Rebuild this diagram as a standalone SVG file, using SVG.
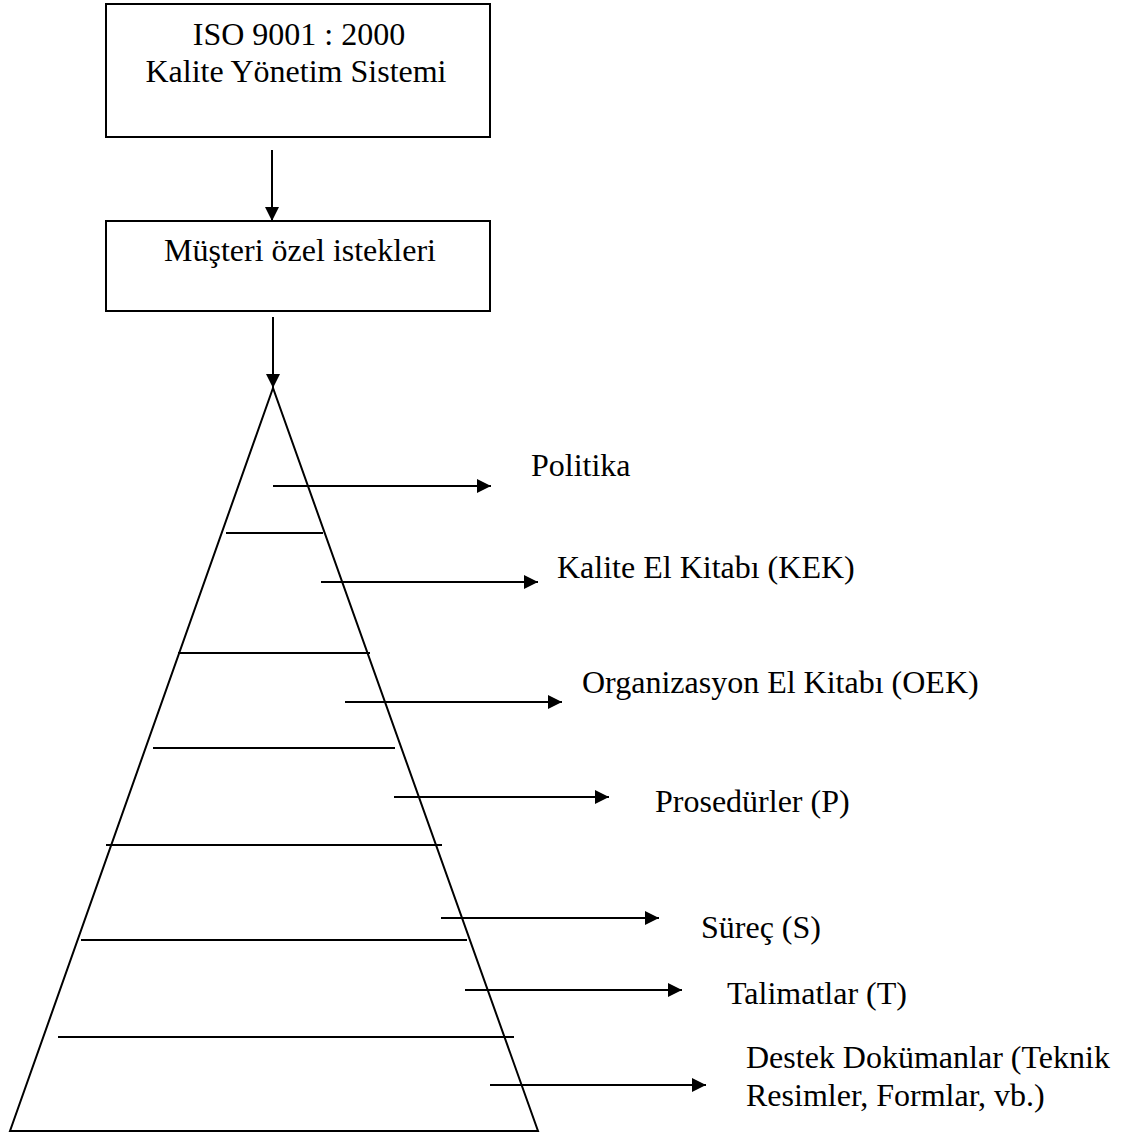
<svg xmlns="http://www.w3.org/2000/svg" width="1124" height="1135" viewBox="0 0 1124 1135">
<style>
.t{font-family:"Liberation Serif","Times New Roman",serif;font-size:32px;fill:#000}
.box{fill:#fff;stroke:#000;stroke-width:2}
.ln{stroke:#000;stroke-width:2;fill:none}
.ar{stroke:#000;stroke-width:2;fill:none;marker-end:url(#ah)}
</style>
<defs>
<marker id="ah" viewBox="0 0 10 10" refX="10" refY="5" markerWidth="8" markerHeight="7" markerUnits="strokeWidth" orient="auto">
<path d="M0,0 L10,5 L0,10 z" fill="#000"/>
</marker>
</defs>
<rect width="1124" height="1135" fill="#fff"/>
<g id="node-iso">
<rect class="box" x="106" y="4" width="384" height="133"/>
<text class="t" text-anchor="middle" x="299" y="45">ISO 9001 : 2000</text>
<text class="t" text-anchor="middle" x="296" y="82">Kalite Yönetim Sistemi</text>
</g>
<g id="node-musteri">
<rect class="box" x="106" y="221" width="384" height="90"/>
<text class="t" text-anchor="middle" x="300" y="261">Müşteri özel istekleri</text>
</g>
<g id="node-pyramid">
<path class="ln" d="M273,388 L10,1131 L538,1131 Z" stroke-width="1.8"/>
<line class="ln" x1="226" y1="533" x2="323" y2="533"/>
<line class="ln" x1="178" y1="653" x2="370" y2="653"/>
<line class="ln" x1="153" y1="748" x2="395" y2="748"/>
<line class="ln" x1="106" y1="845" x2="442" y2="845"/>
<line class="ln" x1="81" y1="940" x2="467" y2="940"/>
<line class="ln" x1="58" y1="1037" x2="514" y2="1037"/>
</g>
<g id="connectors">
<line class="ar" x1="272" y1="150" x2="272" y2="221"/>
<line class="ar" x1="273" y1="317" x2="273" y2="388"/>
<line class="ar" x1="273" y1="486" x2="491" y2="486"/>
<line class="ar" x1="321" y1="582" x2="538" y2="582"/>
<line class="ar" x1="345" y1="702" x2="562" y2="702"/>
<line class="ar" x1="394" y1="797" x2="609" y2="797"/>
<line class="ar" x1="441" y1="918" x2="659" y2="918"/>
<line class="ar" x1="465" y1="990" x2="682" y2="990"/>
<line class="ar" x1="490" y1="1085" x2="706" y2="1085"/>
</g>
<g id="label-politika"><text class="t" x="531" y="476">Politika</text></g>
<g id="label-kek"><text class="t" x="557" y="578">Kalite El Kitabı (KEK)</text></g>
<g id="label-oek"><text class="t" x="582" y="693">Organizasyon El Kitabı (OEK)</text></g>
<g id="label-p"><text class="t" x="655" y="812">Prosedürler (P)</text></g>
<g id="label-s"><text class="t" x="701" y="938">Süreç (S)</text></g>
<g id="label-t"><text class="t" x="727" y="1004">Talimatlar (T)</text></g>
<g id="label-d">
<text class="t" x="746" y="1068">Destek Dokümanlar (Teknik</text>
<text class="t" x="746" y="1106">Resimler, Formlar, vb.)</text>
</g>
</svg>
